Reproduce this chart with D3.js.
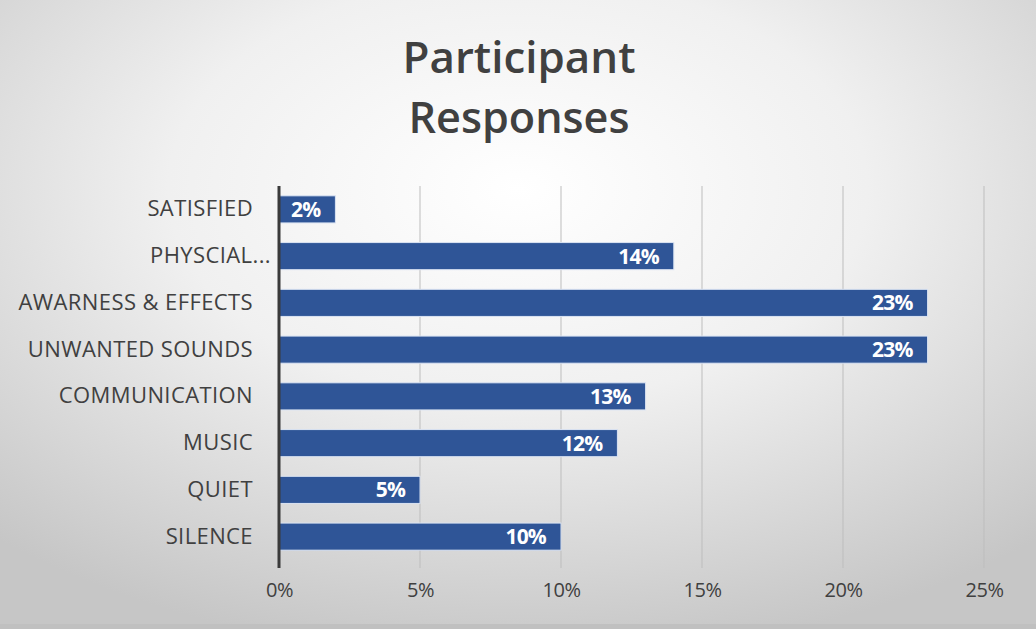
<!DOCTYPE html>
<html>
<head>
<meta charset="utf-8">
<script src="https://cdn.jsdelivr.net/npm/d3@7"></script>
<style>
  body { margin: 0; padding: 0; }
  svg { display: block; }
</style>
</head>
<body>
<div id="chart"></div>
<script>
// Dados do gráfico
var categories = ["SATISFIED", "PHYSCIAL...", "AWARNESS & EFFECTS", "UNWANTED SOUNDS",
                  "COMMUNICATION", "MUSIC", "QUIET", "SILENCE"];
var values = [2, 14, 23, 23, 13, 12, 5, 10];
var tickValues = [0, 5, 10, 15, 20, 25];
var titleLines = ["Participant", "Responses"];

var W = 1036, H = 629;
var margin = { top: 186, right: 51, bottom: 69, left: 279 };
var height = H - margin.top - margin.bottom;

var svg = d3.select("#chart")
            .append("svg")
            .attr("width", W)
            .attr("height", H);

// Fundo com gradiente radial
var defs = svg.append("defs");
var grad = defs.append("radialGradient")
               .attr("id", "bg")
               .attr("cx", "50%").attr("cy", "30%")
               .attr("r", "75%");
grad.append("stop").attr("offset", "0%").attr("stop-color", "#ffffff");
grad.append("stop").attr("offset", "45%").attr("stop-color", "#f0f0f0");
grad.append("stop").attr("offset", "100%").attr("stop-color", "#c6c6c6");

svg.append("rect")
   .attr("width", W).attr("height", H)
   .attr("fill", "url(#bg)");
svg.append("rect")
   .attr("y", H - 5).attr("width", W).attr("height", 5)
   .attr("fill", "#c0c0c0");

// Título
svg.selectAll(".title")
   .data(titleLines)
   .enter()
   .append("text")
   .attr("class", "title")
   .attr("x", 519)
   .attr("y", function(d, i) { return 73 + i * 60; })
   .attr("text-anchor", "middle")
   .style("font-family", "'Open Sans', sans-serif")
   .style("font-weight", "600")
   .style("font-size", "43px")
   .attr("fill", "#404040")
   .attr("textLength", function(d, i) { return i === 0 ? 233 : 221; })
   .attr("lengthAdjust", "spacingAndGlyphs")
   .text(function(d) { return d; });

var g = svg.append("g")
           .attr("transform", "translate(" + margin.left + "," + margin.top + ")");

// Escalas (1% ~ 28.2px)
var xScale = d3.scaleLinear()
               .domain([0, 25])
               .range([0, 705]);

var yScale = d3.scaleBand()
               .domain(categories)
               .range([0, height])
               .paddingInner(0.42)
               .paddingOuter(0.21);

// Linhas de grade
g.selectAll(".grid")
 .data(tickValues.slice(1))
 .enter()
 .append("line")
 .attr("class", "grid")
 .attr("x1", function(d) { return xScale(d); })
 .attr("x2", function(d) { return xScale(d); })
 .attr("y1", 0)
 .attr("y2", height + 8)
 .attr("stroke", "#bdbdbd")
 .attr("stroke-width", 1);

// Barras
g.selectAll(".bar")
 .data(values)
 .enter()
 .append("rect")
 .attr("class", "bar")
 .attr("x", 0)
 .attr("y", function(d, i) { return yScale(categories[i]); })
 .attr("width", function(d) { return xScale(d); })
 .attr("height", yScale.bandwidth())
 .attr("fill", "#2f5597")
 .attr("stroke", "#dbe4f3")
 .attr("stroke-width", 1);

// Rótulos de valor
g.selectAll(".val")
 .data(values)
 .enter()
 .append("text")
 .attr("class", "val")
 .attr("x", function(d) { return xScale(d) - 15; })
 .attr("y", function(d, i) { return yScale(categories[i]) + yScale.bandwidth() / 2; })
 .attr("dy", "0.36em")
 .attr("text-anchor", "end")
 .style("font-family", "'Open Sans', sans-serif")
 .style("font-weight", "700")
 .style("font-size", "21px")
 .style("letter-spacing", "-0.8px")
 .attr("fill", "#ffffff")
 .text(function(d) { return d + "%"; });

// Eixo y
var yAxis = g.append("g")
             .call(d3.axisLeft(yScale).tickSize(0).tickPadding(26));
yAxis.select(".domain").attr("stroke", "#3a3a3a").attr("stroke-width", 3)
     .attr("d", "M0,0V" + (height + 8));
yAxis.selectAll("text")
     .style("font-family", "'Open Sans', sans-serif")
     .style("font-size", "22px")
     .style("letter-spacing", "0.4px")
     .attr("fill", "#404040")
     .attr("dx", function(d) { return d === "PHYSCIAL..." ? 18 : 0; });

// Eixo x
var xAxis = g.append("g")
             .attr("transform", "translate(0," + height + ")")
             .call(d3.axisBottom(xScale)
                     .tickValues(tickValues)
                     .tickSize(0)
                     .tickPadding(23)
                     .tickFormat(function(d) { return d + "%"; }));
xAxis.select(".domain").remove();
xAxis.selectAll("text")
     .style("font-family", "'Open Sans', sans-serif")
     .style("font-size", "20px")
     .style("letter-spacing", "-0.5px")
     .attr("fill", "#404040");
</script>
</body>
</html>
